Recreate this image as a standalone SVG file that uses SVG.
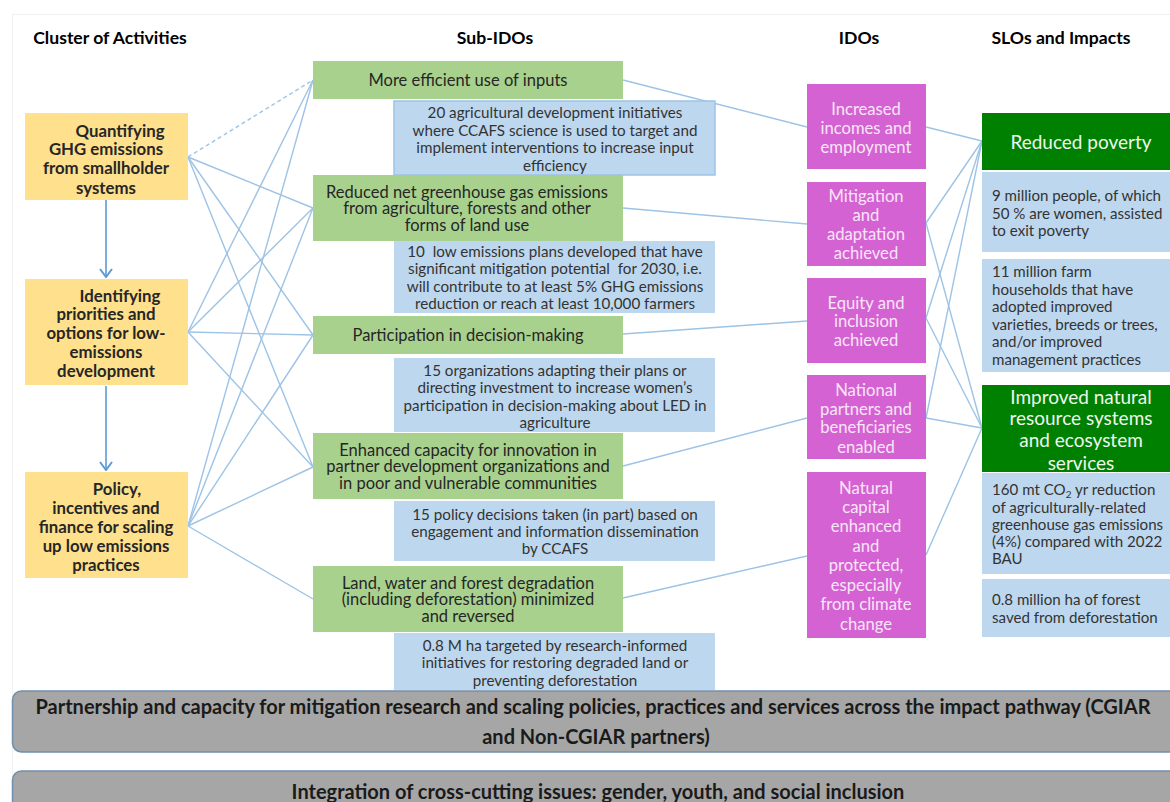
<svg xmlns="http://www.w3.org/2000/svg" width="1170" height="802" viewBox="0 0 1170 802">
  <defs>
    <style>
      text { font-family: Lato, "Open Sans", "Liberation Sans", sans-serif; }
      .h { font-size: 17.6px; font-weight: bold; fill: #000; text-anchor: middle; }
      .act rect { fill: #FFE08C; }
      .act text { font-size: 16.8px; font-weight: bold; fill: #262626; text-anchor: middle; }
      .sub rect { fill: #A9D18E; }
      .sub text { font-size: 16.5px; fill: #262626; text-anchor: middle; }
      .tgt rect { fill: #BDD7EE; }
      .tgt text { font-size: 15.2px; fill: #333; text-anchor: middle; }
      .ido rect { fill: #D462D2; }
      .ido text { font-size: 16.6px; fill: #F8E6F8; text-anchor: middle; }
      .slo .hd { fill: #008000; }
      .slo text.hd { font-size: 19px; fill: #EEF7EE; text-anchor: middle; }
      .slo .bx { fill: #BDD7EE; }
      .slo text.bx { font-size: 15.1px; fill: #333; text-anchor: start; }
      .bar rect { fill: #A6A6A6; stroke: #6F8FAF; stroke-width: 1.5; }
      .bar text { font-size: 20px; font-weight: bold; fill: #1A1A1A; text-anchor: middle; }
      .cn line { stroke: #9DC3E6; stroke-width: 1.4; fill: none; }
      .cn line.dash { stroke-dasharray: 4 3; }
      .flow line { stroke: #5B9BD5; stroke-width: 1.6; marker-end: url(#chev); }
    </style>
    <marker id="chev" viewBox="0 0 10 14" refX="9" refY="7" markerWidth="10" markerHeight="14" markerUnits="userSpaceOnUse" orient="auto">
      <path d="M1,1 L9,7 L1,13" fill="none" stroke="#5B9BD5" stroke-width="2"/>
    </marker>
  </defs>

  <rect x="0" y="0" width="1170" height="802" fill="#fff"/>
  <rect x="12.5" y="14.5" width="1170" height="800" fill="none" stroke="#F0F0F0" stroke-width="1"/>

  <!-- column headings -->
  <g id="headings">
    <text class="h" x="110" y="44">Cluster of Activities</text>
    <text class="h" x="495" y="44">Sub-IDOs</text>
    <text class="h" x="859" y="44">IDOs</text>
    <text class="h" x="1061" y="44">SLOs and Impacts</text>
  </g>

  <!-- connectors -->
  <g id="connectors" class="cn">
    <line class="dash" x1="188" y1="157" x2="313" y2="80"/>
    <line x1="188" y1="157" x2="313" y2="208"/>
    <line x1="188" y1="157" x2="313" y2="335"/>
    <line x1="188" y1="157" x2="313" y2="467"/>
    <line x1="188" y1="332" x2="313" y2="80"/>
    <line x1="188" y1="332" x2="313" y2="208"/>
    <line x1="188" y1="332" x2="313" y2="335"/>
    <line x1="188" y1="332" x2="313" y2="467"/>
    <line x1="188" y1="526" x2="313" y2="80"/>
    <line x1="188" y1="526" x2="313" y2="208"/>
    <line x1="188" y1="526" x2="313" y2="335"/>
    <line x1="188" y1="526" x2="313" y2="467"/>
    <line x1="188" y1="526" x2="313" y2="599"/>

    <line x1="623" y1="80" x2="807" y2="127"/>
    <line x1="623" y1="208" x2="807" y2="224"/>
    <line x1="623" y1="334" x2="807" y2="321"/>
    <line x1="623" y1="466" x2="807" y2="418"/>
    <line x1="623" y1="598" x2="807" y2="556"/>

    <line x1="926" y1="127" x2="982" y2="141"/>
    <line x1="926" y1="223" x2="982" y2="141"/>
    <line x1="926" y1="318" x2="982" y2="141"/>
    <line x1="926" y1="418" x2="982" y2="141"/>
    <line x1="926" y1="223" x2="982" y2="428"/>
    <line x1="926" y1="318" x2="982" y2="428"/>
    <line x1="926" y1="418" x2="982" y2="428"/>
    <line x1="926" y1="555" x2="982" y2="428"/>
  </g>

  <!-- activity sequence arrows -->
  <g id="flow" class="flow">
    <line x1="106" y1="200" x2="106" y2="277"/>
    <line x1="106" y1="386" x2="106" y2="470"/>
  </g>

  <!-- clusters of activities -->
  <g id="act1" class="act">
    <rect x="25" y="113" width="163" height="87"/>
    <text x="120" y="137">Quantifying</text>
    <text x="106" y="155">GHG emissions</text>
    <text x="106" y="174">from smallholder</text>
    <text x="106" y="194">systems</text>
  </g>
  <g id="act2" class="act">
    <rect x="25" y="279" width="163" height="106"/>
    <text x="120" y="302">Identifying</text>
    <text x="106" y="320">priorities and</text>
    <text x="106" y="339">options for low-</text>
    <text x="106" y="358">emissions</text>
    <text x="106" y="377">development</text>
  </g>
  <g id="act3" class="act">
    <rect x="25" y="472" width="163" height="106"/>
    <text x="117" y="495">Policy,</text>
    <text x="106" y="514">incentives and</text>
    <text x="106" y="533">finance for scaling</text>
    <text x="106" y="552">up low emissions</text>
    <text x="106" y="571">practices</text>
  </g>

  <!-- sub-IDOs -->
  <g id="sub1" class="sub">
    <rect x="313" y="61" width="310" height="38"/>
    <text x="468" y="86">More efficient use of inputs</text>
  </g>
  <g id="sub2" class="sub">
    <rect x="313" y="175" width="310" height="66"/>
    <text x="467" y="198">Reduced net greenhouse gas emissions</text>
    <text x="467" y="214">from agriculture, forests and other</text>
    <text x="467" y="231">forms of land use</text>
  </g>
  <g id="sub3" class="sub">
    <rect x="313" y="316" width="310" height="38"/>
    <text x="468" y="341">Participation in decision-making</text>
  </g>
  <g id="sub4" class="sub">
    <rect x="313" y="433" width="310" height="66"/>
    <text x="468" y="456">Enhanced capacity for innovation in</text>
    <text x="468" y="472">partner development organizations and</text>
    <text x="468" y="489">in poor and vulnerable communities</text>
  </g>
  <g id="sub5" class="sub">
    <rect x="313" y="566" width="310" height="66"/>
    <text x="468" y="589">Land, water and forest degradation</text>
    <text x="468" y="605">(including deforestation) minimized</text>
    <text x="468" y="622">and reversed</text>
  </g>

  <!-- sub-IDO targets -->
  <g id="tgt1" class="tgt">
    <rect x="394" y="101" width="321" height="74" stroke="#9DC3E6" stroke-width="1.5"/>
    <text x="555" y="118">20 agricultural development initiatives</text>
    <text x="555" y="136">where CCAFS science is used to target and</text>
    <text x="555" y="153">implement interventions to increase input</text>
    <text x="555" y="171">efficiency</text>
  </g>
  <g id="tgt2" class="tgt">
    <rect x="394" y="241" width="321" height="72"/>
    <text x="555" y="257" xml:space="preserve">10  low emissions plans developed that have</text>
    <text x="555" y="274" xml:space="preserve">significant mitigation potential  for 2030, i.e.</text>
    <text x="555" y="292">will contribute to at least 5% GHG emissions</text>
    <text x="555" y="309">reduction or reach at least 10,000 farmers</text>
  </g>
  <g id="tgt3" class="tgt">
    <rect x="394" y="358" width="321" height="74"/>
    <text x="555" y="376">15 organizations adapting their plans or</text>
    <text x="555" y="393">directing investment to increase women’s</text>
    <text x="555" y="411">participation in decision-making about LED in</text>
    <text x="555" y="428">agriculture</text>
  </g>
  <g id="tgt4" class="tgt">
    <rect x="394" y="501" width="321" height="60"/>
    <text x="555" y="520">15 policy decisions taken (in part) based on</text>
    <text x="555" y="537">engagement and information dissemination</text>
    <text x="555" y="554">by CCAFS</text>
  </g>
  <g id="tgt5" class="tgt">
    <rect x="394" y="633" width="321" height="57"/>
    <text x="555" y="651">0.8 M ha targeted by research-informed</text>
    <text x="555" y="668">initiatives for restoring degraded land or</text>
    <text x="555" y="686">preventing deforestation</text>
  </g>

  <!-- IDOs -->
  <g id="ido1" class="ido">
    <rect x="807" y="84" width="119" height="85"/>
    <text x="866" y="115">Increased</text>
    <text x="866" y="134">incomes and</text>
    <text x="866" y="153">employment</text>
  </g>
  <g id="ido2" class="ido">
    <rect x="807" y="182" width="119" height="84"/>
    <text x="866" y="202">Mitigation</text>
    <text x="866" y="221">and</text>
    <text x="866" y="240">adaptation</text>
    <text x="866" y="259">achieved</text>
  </g>
  <g id="ido3" class="ido">
    <rect x="807" y="278" width="119" height="85"/>
    <text x="866" y="309">Equity and</text>
    <text x="866" y="327">inclusion</text>
    <text x="866" y="346">achieved</text>
  </g>
  <g id="ido4" class="ido">
    <rect x="807" y="375" width="119" height="84"/>
    <text x="866" y="396">National</text>
    <text x="866" y="415">partners and</text>
    <text x="866" y="433">beneficiaries</text>
    <text x="866" y="453">enabled</text>
  </g>
  <g id="ido5" class="ido">
    <rect x="807" y="472" width="119" height="166"/>
    <text x="866" y="494">Natural</text>
    <text x="866" y="513">capital</text>
    <text x="866" y="532">enhanced</text>
    <text x="866" y="552">and</text>
    <text x="866" y="571">protected,</text>
    <text x="866" y="591">especially</text>
    <text x="866" y="610">from climate</text>
    <text x="866" y="630">change</text>
  </g>

  <!-- SLOs and impacts -->
  <g id="slo1" class="slo">
    <rect class="hd" x="982" y="113" width="190" height="57"/>
    <text class="hd" x="1081" y="149">Reduced poverty</text>
  </g>
  <g id="slo1a" class="slo">
    <rect class="bx" x="982" y="172" width="190" height="80"/>
    <text class="bx" x="992" y="201">9 million people, of which</text>
    <text class="bx" x="992" y="219">50 % are women, assisted</text>
    <text class="bx" x="992" y="236">to exit poverty</text>
  </g>
  <g id="slo1b" class="slo">
    <rect class="bx" x="982" y="259" width="190" height="113"/>
    <text class="bx" x="992" y="277">11 million farm</text>
    <text class="bx" x="992" y="295">households that have</text>
    <text class="bx" x="992" y="312">adopted improved</text>
    <text class="bx" x="992" y="330">varieties, breeds or trees,</text>
    <text class="bx" x="992" y="347">and/or improved</text>
    <text class="bx" x="992" y="365">management practices</text>
  </g>
  <g id="slo2" class="slo">
    <rect class="hd" x="982" y="385" width="190" height="87"/>
    <text class="hd" x="1081" y="404">Improved natural</text>
    <text class="hd" x="1081" y="425">resource systems</text>
    <text class="hd" x="1081" y="447">and ecosystem</text>
    <text class="hd" x="1081" y="470">services</text>
  </g>
  <g id="slo2a" class="slo">
    <rect class="bx" x="982" y="473" width="190" height="101"/>
    <text class="bx" x="992" y="495">160 mt CO<tspan dy="3" font-size="10">2</tspan><tspan dy="-3"> yr reduction</tspan></text>
    <text class="bx" x="992" y="513">of agriculturally-related</text>
    <text class="bx" x="992" y="530">greenhouse gas emissions</text>
    <text class="bx" x="992" y="547">(4%) compared with 2022</text>
    <text class="bx" x="992" y="564">BAU</text>
  </g>
  <g id="slo2b" class="slo">
    <rect class="bx" x="982" y="579" width="190" height="58"/>
    <text class="bx" x="992" y="605">0.8 million ha of forest</text>
    <text class="bx" x="992" y="623">saved from deforestation</text>
  </g>

  <!-- cross-cutting bars -->
  <g id="bar1" class="bar">
    <rect x="12.5" y="691" width="1175" height="61" rx="9"/>
    <text x="593" y="714" textLength="1115" lengthAdjust="spacingAndGlyphs">Partnership and capacity for mitigation research and scaling policies, practices and services across the impact pathway (CGIAR</text>
    <text x="596" y="744">and Non-CGIAR partners)</text>
  </g>
  <g id="bar2" class="bar">
    <rect x="12.5" y="771" width="1175" height="45" rx="9"/>
    <text x="598" y="799">Integration of cross-cutting issues: gender, youth, and social inclusion</text>
  </g>
</svg>
